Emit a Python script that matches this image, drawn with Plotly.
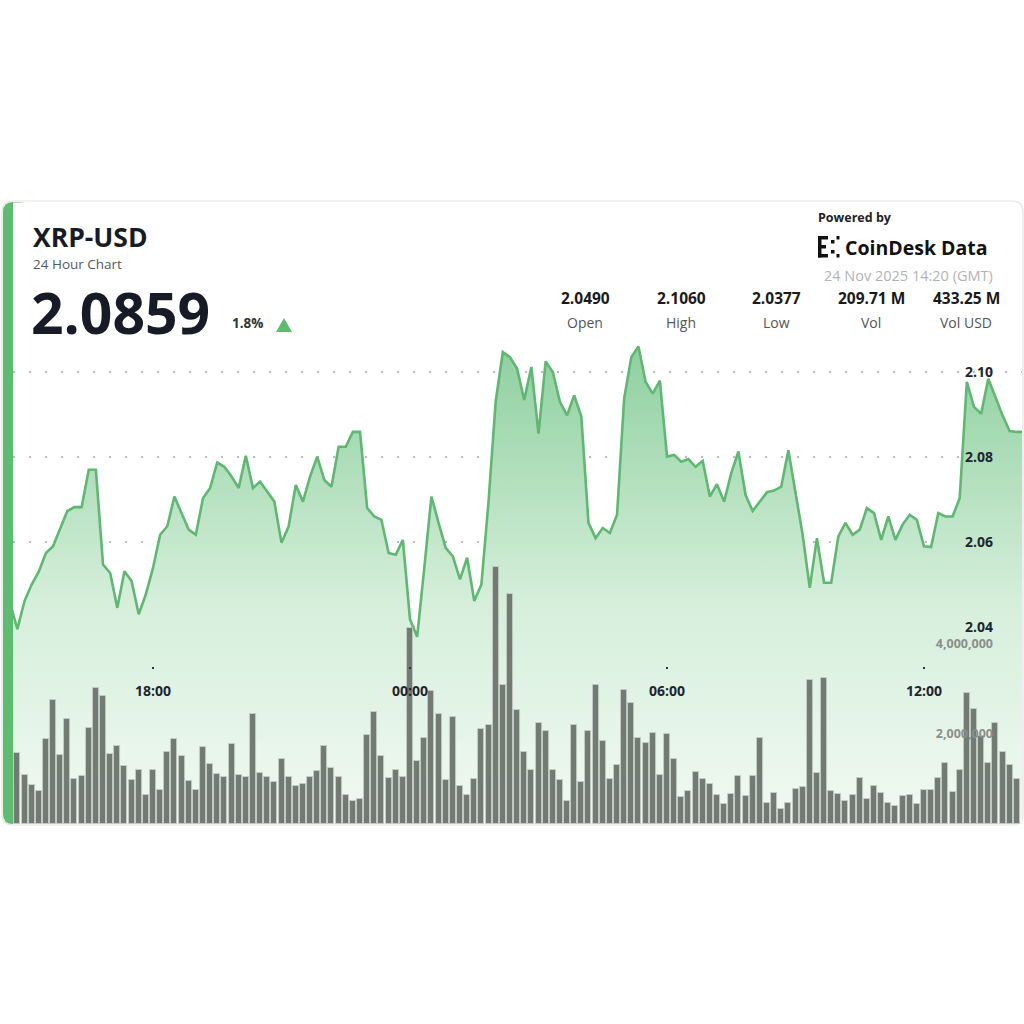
import pandas as pd
import plotly.graph_objects as go

# ---------------- data ----------------
price_start = "2025-11-23 14:40"
price = [
    2.0455, 2.0395, 2.0461, 2.0500, 2.0530, 2.0574, 2.0590, 2.0633, 2.0673, 2.0682,
    2.0682, 2.0770, 2.0770, 2.0547, 2.0527, 2.0445, 2.0531, 2.0508, 2.0430, 2.0477,
    2.0539, 2.0617, 2.0637, 2.0707, 2.0668, 2.0629, 2.0617, 2.0703, 2.0727, 2.0787,
    2.0777, 2.0754, 2.0727, 2.0803, 2.0727, 2.0742, 2.0719, 2.0695, 2.0598, 2.0637,
    2.0734, 2.0695, 2.0754, 2.0801, 2.0746, 2.0730, 2.0824, 2.0824, 2.0859, 2.0859,
    2.0680, 2.0660, 2.0652, 2.0574, 2.0570, 2.0605, 2.0418, 2.0377, 2.0539, 2.0707,
    2.0645, 2.0586, 2.0566, 2.0512, 2.0563, 2.0461, 2.0500, 2.0695, 2.0930, 2.1047,
    2.1035, 2.1008, 2.0934, 2.1012, 2.0855, 2.1025, 2.1000, 2.0930, 2.0898, 2.0945,
    2.0895, 2.0645, 2.0609, 2.0633, 2.0621, 2.0664, 2.0938, 2.1035, 2.1060, 2.0977,
    2.0949, 2.0980, 2.0801, 2.0805, 2.0789, 2.0795, 2.0777, 2.0791, 2.0707, 2.0736,
    2.0695, 2.0762, 2.0813, 2.0711, 2.0673, 2.0695, 2.0717, 2.0721, 2.0730, 2.0816,
    2.0719, 2.0617, 2.0492, 2.0609, 2.0504, 2.0504, 2.0613, 2.0645, 2.0617, 2.0629,
    2.0680, 2.0668, 2.0605, 2.0660, 2.0605, 2.0641, 2.0664, 2.0652, 2.0590, 2.0588,
    2.0668, 2.0660, 2.0660, 2.0703, 2.0977, 2.0918, 2.0902, 2.0984, 2.0941, 2.0898,
    2.0861, 2.0859, 2.0859,
]
# volume in millions, 10-minute bars
volume_m = [
    1.22, 1.58, 1.09, 0.86, 0.74, 1.89, 2.76, 1.53, 2.33, 1.00, 1.06, 2.13, 3.03, 2.85,
    1.56, 1.73, 1.30, 0.98, 1.20, 0.64, 1.19, 0.76, 1.60, 1.89, 1.51, 0.96, 0.76, 1.72,
    1.33, 1.12, 1.05, 1.77, 1.09, 1.04, 2.45, 1.13, 1.04, 0.93, 1.44, 1.04, 0.84, 0.89,
    1.05, 1.18, 1.73, 1.24, 1.04, 0.65,
    0.51, 0.55, 1.98, 2.49, 1.51, 1.02, 1.19, 1.05, 4.36, 1.40, 1.91, 2.96, 2.44, 0.98,
    2.38, 0.85, 0.65, 1.00, 2.12, 2.20, 5.71, 3.08, 5.11, 2.53, 1.61, 1.21, 2.24, 2.06,
    1.19, 0.98, 0.52, 2.20, 0.94, 2.06, 3.09, 1.85, 1.00, 1.31, 2.97, 2.69, 1.91, 1.80,
    2.03, 1.08, 2.00, 1.45, 0.60, 0.73,
    1.16, 1.00, 0.89, 0.64, 0.45, 0.67, 1.06, 0.63, 1.06, 1.92, 0.46, 0.69, 0.33, 0.46,
    0.78, 0.82, 3.19, 1.13, 3.25, 0.74, 0.67, 0.52, 0.65, 1.02, 0.55, 0.84, 0.68, 0.47,
    0.41, 0.62, 0.65, 0.44, 0.75, 0.75, 1.02, 1.36, 0.71, 1.19, 2.91, 2.55, 1.96, 1.35,
    2.24, 1.61, 1.32, 1.00,
]
time_ticks = ["2025-11-23 18:00", "2025-11-24 00:00", "2025-11-24 06:00", "2025-11-24 12:00"]
time_tick_labels = ["18:00", "00:00", "06:00", "12:00"]
price_ticks = [2.04, 2.06, 2.08, 2.10]
price_tick_labels = ["2.04", "2.06", "2.08", "2.10"]
vol_ticks = [2_000_000, 4_000_000]
vol_tick_labels = ["2,000,000", "4,000,000"]

stat_values = ["2.0490", "2.1060", "2.0377", "209.71 M", "433.25 M"]
stat_labels = ["Open", "High", "Low", "Vol", "Vol USD"]

price_times = pd.date_range(price_start, periods=len(price), freq="10min")
vol_times = pd.date_range(price_start, periods=len(volume_m), freq="10min")
volume = [v * 1e6 for v in volume_m]

# ---------------- geometry helpers ----------------
W = 1024
def X(px):
    return px / W
def Y(py):
    return 1 - py / W

base = pd.Timestamp("2025-11-24 00:00")
px_per_hour = 42.833
x0_t = base + pd.Timedelta(hours=(13 - 410) / px_per_hour)
x1_t = base + pd.Timedelta(hours=(1022 - 410) / px_per_hour)

plot_top, plot_bot = 340, 824
p_per_px = 0.02 / 85
p_lo = 2.10 - (plot_bot - 372) * p_per_px
p_hi = 2.10 + (372 - plot_top) * p_per_px
v_hi = (plot_bot - plot_top) / 45.0 * 1e6

FONT = "Open Sans"
DARK = "#161b26"
GREEN_LINE = "#5fb872"

fig = go.Figure()

fig.add_trace(go.Scatter(
    x=price_times, y=price, mode="lines",
    line=dict(color=GREEN_LINE, width=2.6),
    fill="tozeroy",
    fillgradient=dict(
        type="vertical",
        colorscale=[[0, "rgba(241,249,243,1)"], [0.45, "rgba(214,239,219,1)"],
                    [1, "rgba(140,207,157,1)"]],
        start=p_lo, stop=p_hi,
    ),
    xaxis="x", yaxis="y", hoverinfo="skip", showlegend=False,
))

fig.add_trace(go.Bar(
    x=vol_times, y=volume, width=10 * 60 * 1000 * 0.84,
    marker=dict(color="rgba(106,116,108,0.95)",
                line=dict(color="rgba(196,206,198,0.95)", width=0.9)),
    xaxis="x", yaxis="y2", hoverinfo="skip", showlegend=False,
))

def rrect(x0, y0, x1, y1, r):
    return (f"M {X(x0 + r)},{Y(y0)} L {X(x1 - r)},{Y(y0)} Q {X(x1)},{Y(y0)} {X(x1)},{Y(y0 + r)} "
            f"L {X(x1)},{Y(y1 - r)} Q {X(x1)},{Y(y1)} {X(x1 - r)},{Y(y1)} "
            f"L {X(x0 + r)},{Y(y1)} Q {X(x0)},{Y(y1)} {X(x0)},{Y(y1 - r)} "
            f"L {X(x0)},{Y(y0 + r)} Q {X(x0)},{Y(y0)} {X(x0 + r)},{Y(y0)} Z")

shapes = [
    dict(type="path", path=rrect(2, 201, 1023, 825, 11), xref="paper", yref="paper",
         fillcolor="#ffffff", line=dict(color="#e4e4e4", width=1.2), layer="below"),
    dict(type="path", path=rrect(3, 202, 30, 824, 10), xref="paper", yref="paper",
         fillcolor="#5cbd6e", line=dict(width=0), layer="below"),
    dict(type="rect", x0=X(13), x1=X(40), y0=Y(824), y1=Y(202.5), xref="paper", yref="paper",
         fillcolor="#ffffff", line=dict(width=0), layer="below"),
]

# CoinDesk logo icon (small blocks)
icon = [(818, 236, 821.5, 257.5), (818, 236, 828, 239.5), (818, 254, 828, 257.5),
        (821, 245, 826, 248.5), (831, 240, 834.5, 243.5), (831, 250, 834.5, 253.5),
        (836.5, 236, 839.5, 239.5), (836.5, 254, 839.5, 257.5)]
for (a, b, c, d) in icon:
    shapes.append(dict(type="rect", x0=X(a), x1=X(c), y0=Y(d), y1=Y(b), xref="paper",
                       yref="paper", fillcolor="#111111", line=dict(width=0), layer="above"))

# triangle up
shapes.append(dict(type="path", xref="paper", yref="paper",
                   path=f"M {X(276)},{Y(332)} L {X(292)},{Y(332)} L {X(284)},{Y(318)} Z",
                   fillcolor="#5cbd6e", line=dict(width=0)))

ann = []
def txt(s, x, y, size, color=DARK, bold=False, xanchor="left", yanchor="middle"):
    ann.append(dict(text=s, x=X(x), y=Y(y), xref="paper", yref="paper", showarrow=False,
                    xanchor=xanchor, yanchor=yanchor,
                    font=dict(family=FONT, size=size, color=color,
                              weight="bold" if bold else "normal")))

txt("XRP-USD", 31, 236.5, 26.5, bold=True)
txt("24 Hour Chart", 31, 264, 13.5, color="#555a60")
txt("2.0859", 29, 311.5, 57, bold=True)
txt("1.8%", 230, 323, 13.5, color="#333333", bold=True)
txt("Powered by", 816, 217, 12.5, color="#222222", bold=True)
txt("CoinDesk Data", 843, 247, 19.5, color="#111111", bold=True)
txt("24 Nov 2025 14:20 (GMT)", 995, 275, 14.5, color="#b3b3b3", xanchor="right")

stat_x = [585, 681, 776, 871, 966]
for sx, sv, sl in zip(stat_x, stat_values, stat_labels):
    txt(sv, sx, 298, 15.5, color="#1a1a1a", bold=True, xanchor="center")
    txt(sl, sx, 322, 14, color="#555555", xanchor="center")

fig.update_layout(
    width=1024, height=1024,
    margin=dict(l=0, r=0, t=0, b=0),
    paper_bgcolor="#ffffff", plot_bgcolor="rgba(0,0,0,0)",
    shapes=shapes, annotations=ann, showlegend=False, bargap=0,
    xaxis=dict(
        type="date", domain=[X(13), X(1022)], range=[x0_t, x1_t],
        anchor="free", position=Y(666),
        tickvals=time_ticks, ticktext=time_tick_labels,
        ticks="outside", ticklen=2, tickwidth=2, tickcolor="#333333",
        ticklabelstandoff=10,
        showgrid=False, zeroline=False, showline=False,
        tickfont=dict(family=FONT, size=14, color="#1e2530", weight="bold"),
    ),
    yaxis=dict(
        domain=[Y(plot_bot), Y(plot_top)], range=[p_lo, p_hi],
        side="right", anchor="x", ticklabelposition="inside", ticklabelstandoff=26,
        tickvals=price_ticks, ticktext=price_tick_labels, ticks="",
        showgrid=True, gridcolor="#bcbcbc", gridwidth=1.6, griddash="2px,14px",
        zeroline=False, showline=False,
        tickfont=dict(family=FONT, size=14, color="#1e2530", weight="bold"),
    ),
    yaxis2=dict(
        overlaying="y", side="right", anchor="x", range=[0, v_hi],
        ticklabelposition="inside", ticklabelstandoff=26,
        tickvals=vol_ticks, ticktext=vol_tick_labels, ticks="",
        showgrid=True, gridcolor="#bcbcbc", gridwidth=1.6, griddash="2px,14px",
        zeroline=False, showline=False,
        tickfont=dict(family=FONT, size=12.5, color="#8a8f8b", weight="bold"),
    ),
)

fig.write_html("out.html")
